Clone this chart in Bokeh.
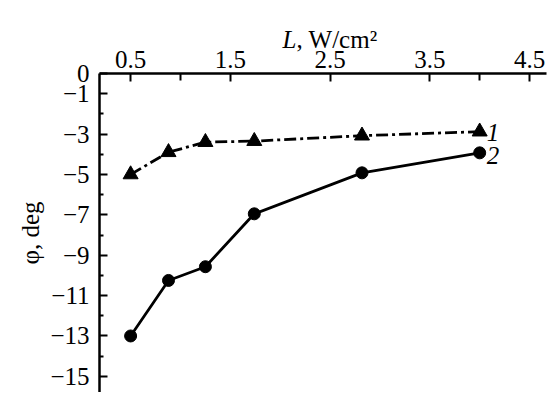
from bokeh.plotting import figure
from bokeh.models import FixedTicker, Range1d, Label
from bokeh.embed import file_html
from bokeh.resources import INLINE

# Data
L = [0.5, 0.88, 1.25, 1.74, 2.82, 4.0]
phi1 = [-5.0, -3.9, -3.4, -3.35, -3.08, -2.88]
phi2 = [-13.0, -10.25, -9.57, -6.95, -4.92, -3.93]

x_ticks = [0.5, 1.5, 2.5, 3.5, 4.5]
x_minor = [1.0, 4.0]
y_ticks = [0, -1, -3, -5, -7, -9, -11, -13, -15]
y_minor = [-2, -4, -6, -8, -10, -12, -14]
series_names = ["1", "2"]

FONT = "Liberation Serif"
FS = "25px"

p = figure(width=550, height=392, output_backend="svg", toolbar_location=None,
           x_axis_location="above",
           x_range=Range1d(0.188, 4.670), y_range=Range1d(-15.8, 0),
           min_border_left=96, min_border_top=73, min_border_right=4, min_border_bottom=0)
p.outline_line_color = None
p.grid.visible = False
p.background_fill_color = "white"
p.border_fill_color = "white"

# Axes
xa = p.xaxis[0]
xa.ticker = FixedTicker(ticks=x_ticks, minor_ticks=x_minor)
xa.major_label_overrides = {t: f"{t:.1f}" for t in x_ticks}
ya = p.yaxis[0]
ya.ticker = FixedTicker(ticks=y_ticks, minor_ticks=y_minor)
ya.major_label_overrides = {t: ("0" if t == 0 else "\u2212" + str(abs(t))) for t in y_ticks}

for ax in (xa, ya):
    ax.axis_line_width = 2.5
    ax.axis_line_color = "black"
    ax.major_tick_in = 8
    ax.major_tick_out = 0
    ax.minor_tick_in = 5
    ax.minor_tick_out = 0
    ax.major_tick_line_width = 2
    ax.minor_tick_line_width = 2
    ax.major_tick_line_color = "black"
    ax.minor_tick_line_color = "black"
    ax.major_label_text_font = FONT
    ax.major_label_text_font_size = FS
    ax.major_label_text_color = "black"
ya.minor_tick_in = 4
xa.minor_tick_in = 7
xa.major_label_standoff = 6
ya.major_label_standoff = 10

# y axis title
ya.axis_label = "\u03c6, deg"
ya.axis_label_text_font = FONT
ya.axis_label_text_font_size = FS
ya.axis_label_text_font_style = "normal"
ya.axis_label_text_color = "black"
ya.axis_label_standoff = 3

# Series 1: triangles, dash-dot
p.line(L, phi1, line_color="black", line_width=2.8, line_dash="12 4 3 4")
p.scatter(L, phi1, marker="triangle", size=15, fill_color="black", line_color="black")
# Series 2: circles, solid
p.line(L, phi2, line_color="black", line_width=2.8)
p.scatter(L, phi2, marker="circle", size=12, fill_color="black", line_color="black")

# Series labels
p.add_layout(Label(x=L[-1] + 0.07, y=phi1[-1] - 0.05, text=series_names[0], text_font=FONT,
                   text_font_size=FS, text_font_style="italic", text_color="black",
                   text_align="left", text_baseline="middle"))
p.add_layout(Label(x=L[-1] + 0.07, y=phi2[-1] - 0.12, text=series_names[1], text_font=FONT,
                   text_font_size=FS, text_font_style="italic", text_color="black",
                   text_align="left", text_baseline="middle"))

# x axis title: italic L + normal unit, drawn from side panels at canvas positions
p.add_layout(Label(x=282, y=39, x_units="canvas", y_units="canvas", text="L",
                   text_font=FONT, text_font_size=FS, text_color="black",
                   text_font_style="italic", text_align="left", text_baseline="alphabetic"),
             "left")
p.add_layout(Label(x=296, y=39, x_units="canvas", y_units="canvas", text=", W/cm\u00b2",
                   text_font=FONT, text_font_size=FS, text_color="black",
                   text_align="left", text_baseline="alphabetic"),
             "above")

open("out.html", "w").write(file_html(p, INLINE))
